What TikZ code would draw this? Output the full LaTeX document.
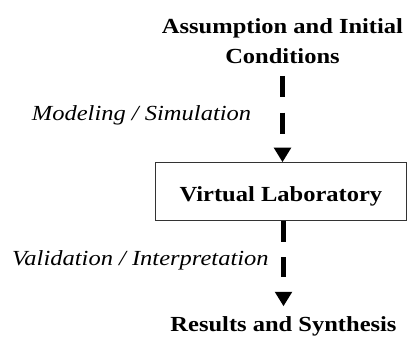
\documentclass[tikz,border=0pt]{standalone}
\usepackage{fontspec}
\setmainfont[FakeStretch=1.14]{Liberation Serif}
\usetikzlibrary{arrows.meta}

\begin{document}
\begin{tikzpicture}[x=1pt,y=-1pt,
  heading/.style={font=\fontsize{21.5}{30}\selectfont\bfseries, inner sep=0pt, align=center},
  steplabel/.style={font=\fontsize{21.5}{26}\selectfont\itshape, inner sep=0pt, anchor=base west},
  labbox/.style={draw=black!80, line width=1pt, minimum width=251.7pt, minimum height=58pt,
    inner sep=0pt, text height=20pt, text depth=0pt, font=\fontsize{21.5}{26}\selectfont\bfseries},
  flow/.style={line width=5pt, -{Triangle[length=14.5pt,width=16.5pt]}}
]
\useasboundingbox (0,0) rectangle (409,340);

% stages
\node[heading, anchor=north] (start) at (282.5,18.3) {Assumption and Initial\\Conditions};
\node[labbox] (vlab) at (280.9,191.7) {Virtual Laboratory};
\node[heading, anchor=base] (res) at (283.5,331.7) {Results and Synthesis};

% transitions
\draw[flow, dash pattern=on 21.5pt off 15.2pt, shorten <=12pt]
  (start.south) -- (start.south |- vlab.north);
\draw[flow, dash pattern=on 20.3pt off 15.5pt, shorten >=10.3pt]
  (vlab.south -| res.north) -- (res.north);

% transition labels
\node[steplabel] (model) at (31.7,120) {Modeling / Simulation};
\node[steplabel] (valid) at (12,265) {Validation / Interpretation};
\end{tikzpicture}
\end{document}
